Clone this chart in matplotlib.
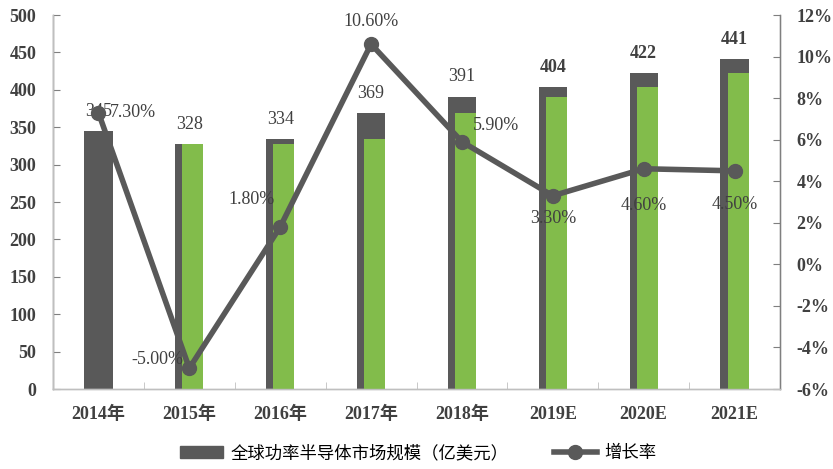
import matplotlib
matplotlib.use("Agg")
import matplotlib.pyplot as plt
import numpy as np
from matplotlib.lines import Line2D
from matplotlib.patches import Patch

categories = ["2014年", "2015年", "2016年", "2017年", "2018年", "2019E", "2020E", "2021E"]
market = [345, 328, 334, 369, 391, 404, 422, 441]
green_overlay = [np.nan, 328, 328, 334, 369, 391, 404, 422]
growth = [7.30, -5.00, 1.80, 10.60, 5.90, 3.30, 4.60, 4.50]
growth_labels = ["7.30%", "-5.00%", "1.80%", "10.60%", "5.90%", "3.30%", "4.60%", "4.50%"]

SERIF = ["Liberation Serif", "Noto Sans CJK SC", "DejaVu Sans"]
GRAY = "#595959"
GREEN = "#82BC4B"

fig = plt.figure(figsize=(8.33, 4.69), dpi=100)
ax = fig.add_axes([53/833, 1-389/469, (780-53)/833, (389-15)/469])
ax2 = ax.twinx()

x = np.arange(len(categories))
bw = 0.31
gw = 0.23
ax.bar(x, market, width=bw, color=GRAY, zorder=2)
ax.bar(x + (bw-gw)/2, green_overlay, width=gw, color=GREEN, zorder=3)

ax.set_xlim(-0.5, len(categories)-0.5)
ax.set_ylim(0, 500)
ax.set_yticks(range(0, 501, 50))
ax2.set_ylim(-6, 12)
ax2.set_yticks(range(-6, 13, 2))
ax2.set_yticklabels([f"{v}%" for v in range(-6, 13, 2)])

for a in (ax, ax2):
    a.spines["top"].set_visible(False)
    for s in ("left", "right", "bottom"):
        a.spines[s].set_color("#BFBFBF")
        a.spines[s].set_linewidth(1.0)
ax.spines["left"].set_color("#7F7F7F")
ax2.spines["right"].set_color("#7F7F7F")

ax.set_xticks(x)
ax.set_xticklabels(categories)
ax.set_xticks(np.arange(-0.5, len(categories), 1), minor=True)
ax.tick_params(axis="x", which="major", length=0, pad=12)
ax.tick_params(axis="x", which="minor", length=5, color="#BFBFBF", direction="in")
ax.tick_params(axis="y", length=5, color="#7F7F7F", pad=12, direction="in")
ax2.tick_params(axis="y", length=5, color="#7F7F7F", pad=12, direction="in")
for lab in ax.get_xticklabels() + ax.get_yticklabels() + ax2.get_yticklabels():
    lab.set_family(SERIF)
    lab.set_fontsize(13)
    lab.set_color("#404040")
    lab.set_fontweight("bold")

# line on secondary axis
ax2.plot(x, growth, color=GRAY, lw=4, marker="o", ms=10, zorder=5)
ax.set_zorder(1)
ax2.set_zorder(2)
ax2.patch.set_visible(False)

# bar value labels
for i, v in enumerate(market):
    ax.annotate(str(v), (x[i], v), xytext=(0, 8), textcoords="offset points",
                ha="center", va="bottom", fontsize=13, family=SERIF, color="#404040",
                fontweight="bold" if i >= 5 else "normal", zorder=6)

# growth labels (offsets in points)
offs = [(8, 0, "left", "center"), (-4, 6, "right", "center"), (-4, 20, "right", "center"),
        (0, 10, "center", "bottom"), (8, 12, "left", "center"), (0, -10, "center", "top"),
        (0, -20, "center", "top"), (0, -18, "center", "top")]
for i, g in enumerate(growth):
    dx, dy, ha, va = offs[i]
    ax2.annotate(growth_labels[i], (x[i], g), xytext=(dx, dy), textcoords="offset points",
                 ha=ha, va=va, fontsize=13, family=SERIF, color="#404040", zorder=7)

handles = [Patch(facecolor=GRAY, edgecolor=GRAY),
           Line2D([0], [0], color=GRAY, lw=4, marker="o", ms=10)]
fig.legend(handles, ["全球功率半导体市场规模（亿美元）", "增长率"], loc="center",
           bbox_to_anchor=(418/833, 1-453/469), ncol=2, frameon=False,
           prop={"family": ["Noto Sans CJK SC", "DejaVu Sans"], "size": 12.5},
           handlelength=2.5, columnspacing=2.6, handletextpad=0.4)

fig.savefig("out.png", dpi=100)
